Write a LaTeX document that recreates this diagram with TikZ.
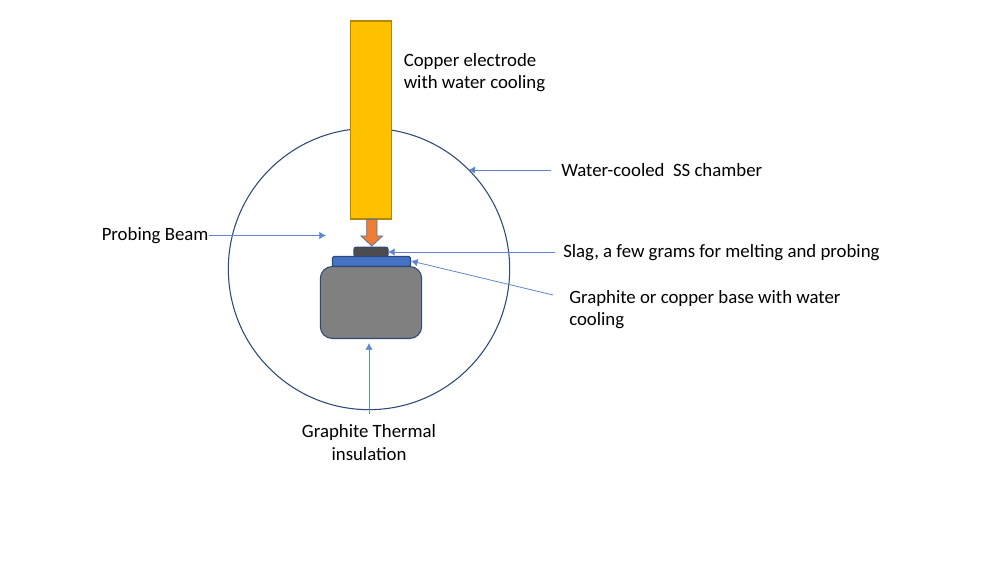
\documentclass[tikz,border=0pt]{standalone}
\usepackage{fontspec}
\setmainfont{Carlito}
\usetikzlibrary{arrows.meta}
\definecolor{outl}{HTML}{2F4A75}
\definecolor{arr}{HTML}{4472C4}
\definecolor{gold}{HTML}{FFC000}
\definecolor{orng}{HTML}{ED7D31}
\tikzset{
  lab/.style={font=\fontsize{14.1}{16.9}\selectfont, text=black, inner sep=0pt, align=left, anchor=west},
  labc/.style={lab, align=center, anchor=north},
  pointer/.style={draw=arr!85!white, line width=0.6pt, -{Latex[length=5pt,width=5.5pt]}},
  part/.style={draw=outl, line width=0.8pt},
}
\begin{document}
\begin{tikzpicture}[x=0.75pt,y=-0.75pt]
\useasboundingbox (0,0) rectangle (1000,563);
\fill[white] (0,0) rectangle (1000,563);
\node[part, circle, minimum size=211pt, inner sep=0pt, fill=none] (chamber) at (369,269) {};
\node[draw=gold!70!black, line width=0.8pt, fill=gold, minimum width=30.75pt, minimum height=148.5pt, inner sep=0pt] (electrode) at (370.75,120) {};
\draw[draw=arr!70!gray, line width=0.6pt, fill=orng]
  (366.7,219.5) -- (377,219.5) -- (377,236) -- (382.5,236) -- (371.8,246) -- (361,236) -- (366.7,236) -- cycle;
\node[part, rounded corners=1.5pt, fill=black!70!white, minimum width=25.5pt, minimum height=7.2pt, inner sep=0pt] (slag) at (371,252) {};
\node[part, rounded corners=1pt, fill=arr, minimum width=58.5pt, minimum height=7.5pt, inner sep=0pt] (base) at (371.5,261.5) {};
\node[part, rounded corners=9pt, fill=black!50!white, minimum width=76pt, minimum height=54pt, inner sep=0pt] (insul) at (371,302.5) {};

\node[lab] (tcopper) at (403.5,72.5) {Copper electrode\\with water cooling};
\node[lab] (tchamber) at (561,170) {Water-cooled\ \ SS chamber};
\node[lab] (tbeam) at (101.5,236) {Probing Beam};
\node[lab] (tslag) at (563,253) {Slag, a few grams for melting and probing};
\node[lab] (tbase) at (569,309.5) {Graphite or copper base with water\\cooling};
\node[labc] (tinsul) at (369,424.5) {Graphite Thermal\\insulation};

\coordinate (pchamber) at (468.5,170);
\coordinate (pbeam) at (326,235.5);
\coordinate (pslag) at (388,252);
\coordinate (pbase) at (411,261);
\coordinate (pinsul) at (369,343);
\coordinate (schamber) at (551,170);
\coordinate (sbeam) at (209,235.5);
\coordinate (sslag) at (555,252);
\coordinate (sbase) at (553,295);
\coordinate (sinsul) at (369,414);
\draw[pointer] (schamber) -- (pchamber);
\draw[pointer] (sbeam) -- (pbeam);
\draw[pointer] (sslag) -- (pslag);
\draw[pointer] (sbase) -- (pbase);
\draw[pointer] (sinsul) -- (pinsul);
\end{tikzpicture}
\end{document}
